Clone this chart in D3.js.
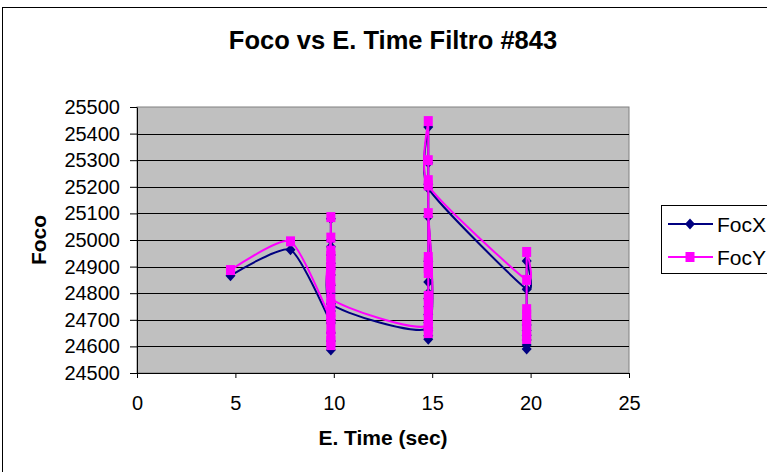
<!DOCTYPE html>
<html>
<head>
<meta charset="utf-8">
<script src="https://cdn.jsdelivr.net/npm/d3@7"></script>
<style>
  body { margin: 0; background: #fff; }
  text { font-family: "Liberation Sans", Arial, sans-serif; fill: #000; }
</style>
</head>
<body>
<div class="canvas"></div>
<script>
// data
const time = [
  4.75, 7.8,
  9.85, 9.85, 9.85, 9.85, 9.85, 9.85, 9.85, 9.85, 9.85, 9.85, 9.85, 9.85, 9.85, 9.85, 9.85, 9.85, 9.85, 9.85,
  14.8, 14.8, 14.8, 14.8, 14.8, 14.8, 14.8, 14.8, 14.8, 14.8, 14.8, 14.8, 14.8, 14.8, 14.8, 14.8,
  19.8, 19.8, 19.8, 19.8, 19.8, 19.8, 19.8, 19.8, 19.8
];
const focX = [
  24866, 24963,
  24688, 24650, 24620, 24600, 24586, 24700, 24733, 24760, 24800, 24830, 24868, 24890, 24913, 24944, 24975, 25080, 25000, 24760,
  24669, 25087, 24920, 24842, 24800, 24780, 24750, 24720, 24690, 24640, 24627, 24660, 25210, 25290, 25425, 25195,
  24815, 24921, 24700, 24680, 24660, 24642, 24624, 24605, 24590
];
const focY = [
  24887, 24995,
  24700, 24665, 24640, 24620, 24605, 24710, 24730, 24760, 24820, 24850, 24885, 24900, 24920, 24940, 24960, 25086, 25009, 24780,
  24680, 25101, 24936, 24915, 24895, 24876, 24790, 24760, 24730, 24700, 24650, 24670, 25225, 25300, 25447, 25205,
  24850, 24955, 24740, 24720, 24700, 24680, 24660, 24640, 24628
];
const seriesNames = ['FocX', 'FocY'];
const seriesColors = ['#000080', '#ff00ff'];
const xTicks = [0, 5, 10, 15, 20, 25];
const yTicks = [24500, 24600, 24700, 24800, 24900, 25000, 25100, 25200, 25300, 25400, 25500];

const dims = { width: 767, height: 472 };
const plot = { left: 137, right: 629, top: 107, bottom: 373 };

const svg = d3.select('.canvas')
  .append('svg')
  .attr('width', dims.width)
  .attr('height', dims.height);

svg.append('rect')
  .attr('width', dims.width)
  .attr('height', dims.height)
  .attr('fill', '#fff');

// outer chart border
svg.append('rect')
  .attr('x', 2.5)
  .attr('y', 7.5)
  .attr('width', 800)
  .attr('height', 500)
  .attr('fill', 'none')
  .attr('stroke', '#000');

const x = d3.scaleLinear().domain([0, 25]).range([plot.left, plot.right]);
const y = d3.scaleLinear().domain([24500, 25500]).range([plot.bottom, plot.top]);

// plot area
svg.append('rect')
  .attr('x', plot.left)
  .attr('y', plot.top)
  .attr('width', plot.right - plot.left)
  .attr('height', plot.bottom - plot.top)
  .attr('fill', '#c0c0c0')
  .attr('stroke', '#808080');

// gridlines
svg.append('g')
  .selectAll('line')
  .data(yTicks.slice(1, -1))
  .enter()
  .append('line')
    .attr('x1', plot.left)
    .attr('x2', plot.right)
    .attr('y1', d => Math.round(y(d)) + 0.5)
    .attr('y2', d => Math.round(y(d)) + 0.5)
    .attr('stroke', '#000');

// axes
const xAxis = d3.axisBottom(x)
  .tickValues(xTicks)
  .tickSize(5)
  .tickPadding(18)
  .tickSizeOuter(0);

const yAxis = d3.axisLeft(y)
  .tickValues(yTicks)
  .tickFormat(d3.format('d'))
  .tickSize(7)
  .tickPadding(10)
  .tickSizeOuter(0);

const xAxisGroup = svg.append('g')
  .attr('transform', `translate(0, ${plot.bottom})`)
  .call(xAxis);

const yAxisGroup = svg.append('g')
  .attr('transform', `translate(${plot.left}, 0)`)
  .call(yAxis);

[xAxisGroup, yAxisGroup].forEach(g => {
  g.selectAll('path, line').attr('stroke', '#000');
  g.selectAll('text')
    .attr('fill', '#000')
    .style('font-size', '20px')
    .style('font-family', '"Liberation Sans", Arial, sans-serif');
});

// series lines and markers (cardinal spline, close to excel smoothing)
const line = d3.line()
  .x(d => x(d.t))
  .y(d => y(d.v))
  .curve(d3.curveCardinal.tension(0.4));

const series = [focX, focY].map((vals, i) => ({
  name: seriesNames[i],
  color: seriesColors[i],
  points: vals.map((v, j) => ({ t: time[j], v }))
}));

const marker = (sel, i) => {
  if (i === 0) {
    sel.append('path')
      .attr('d', 'M0,-5.5L5,0L0,5.5L-5,0Z')
      .attr('fill', seriesColors[0]);
  } else {
    sel.append('rect')
      .attr('x', -4.5)
      .attr('y', -5)
      .attr('width', 9)
      .attr('height', 10)
      .attr('fill', seriesColors[1]);
  }
};

series.forEach((s, i) => {
  const g = svg.append('g');
  g.append('path')
    .datum(s.points)
    .attr('fill', 'none')
    .attr('stroke', s.color)
    .attr('stroke-width', 2)
    .attr('d', line);

  g.selectAll('g.pt')
    .data(s.points)
    .enter()
    .append('g')
      .attr('class', 'pt')
      .attr('transform', d => `translate(${x(d.t)}, ${y(d.v)})`)
      .each(function() { marker(d3.select(this), i); });
});

// titles
svg.append('text')
  .attr('x', 393)
  .attr('y', 49)
  .attr('text-anchor', 'middle')
  .style('font-size', '25.5px')
  .style('font-weight', 'bold')
  .text('Foco vs E. Time Filtro #843');

svg.append('text')
  .attr('x', (plot.left + plot.right) / 2)
  .attr('y', 445)
  .attr('text-anchor', 'middle')
  .style('font-size', '21px')
  .style('font-weight', 'bold')
  .text('E. Time (sec)');

svg.append('text')
  .attr('transform', `translate(46, ${(plot.top + plot.bottom) / 2}) rotate(-90)`)
  .attr('text-anchor', 'middle')
  .style('font-size', '21px')
  .style('font-weight', 'bold')
  .text('Foco');

// legend
const legendGroup = svg.append('g')
  .attr('transform', 'translate(661, 205)');

legendGroup.append('rect')
  .attr('x', 0.5)
  .attr('y', 0.5)
  .attr('width', 130)
  .attr('height', 68)
  .attr('fill', '#fff')
  .attr('stroke', '#000');

seriesNames.forEach((name, i) => {
  const row = legendGroup.append('g')
    .attr('transform', `translate(0, ${19 + i * 33})`);
  row.append('line')
    .attr('x1', 7)
    .attr('x2', 52)
    .attr('stroke', seriesColors[i])
    .attr('stroke-width', 2);
  const m = row.append('g').attr('transform', 'translate(29, 0)');
  marker(m, i);
  row.append('text')
    .attr('x', 56)
    .attr('y', 7.5)
    .style('font-size', '21px')
    .text(name);
});
</script>
</body>
</html>
